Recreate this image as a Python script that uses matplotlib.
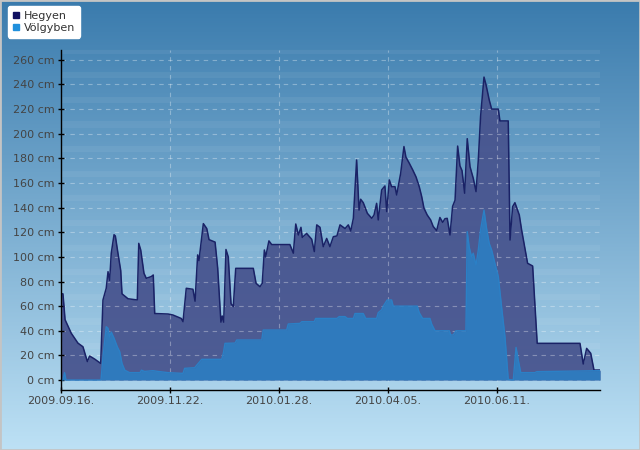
import numpy as np
import matplotlib
matplotlib.use("Agg")
import matplotlib.pyplot as plt
import matplotlib.dates as mdates
from matplotlib.lines import Line2D
from matplotlib.patches import Rectangle

# napok 2009.09.16. ota, hoérték cm-ben
kezdo = np.datetime64("2009-09-16")

hegyen_nap = [0, 1.2, 2.5, 6.3, 10.4, 13.5, 16.2, 17.6, 20.7, 24.4, 25.8, 27.8, 28.9, 29.9, 30.9,
              32.6, 33.4, 35.0, 36.7, 37.5, 41.2, 46.9, 47.8, 49.0, 51.0, 52.4, 55.5, 56.7, 57.6,
              65.8, 68.8, 73.9, 75.0, 77.0, 81.1, 82.4, 84.0, 84.8, 87.5, 89.6, 91.0, 94.7, 96.3,
              98.3, 99.1, 100.0, 101.4, 102.8, 104.5, 105.9, 107.4, 118.2, 119.9, 122.3, 123.7,
              125.0, 125.8, 127.8, 129.5, 140.7, 142.8, 144.3, 145.9, 147.5, 148.3, 151.0, 154.1,
              155.7, 157.2, 159.2, 161.2, 163.3, 165.3, 167.4, 169.6, 171.5, 174.6, 176.6, 178.1,
              179.7, 181.7, 183.2, 184.2, 185.8, 188.3, 191.0, 192.4, 194.0, 195.0, 197.1, 199.1,
              200.2, 201.8, 203.2, 205.3, 206.3, 208.8, 210.8, 212.0, 214.1, 216.2, 218.2, 220.2,
              221.7, 223.1, 225.1, 227.2, 228.8, 230.9, 232.9, 234.6, 236.0, 237.4, 239.1, 240.7,
              242.2, 243.8, 245.2, 246.5, 248.1, 249.7, 251.4, 253.4, 255.1, 256.5, 257.9, 260.0,
              261.2, 263.2, 264.7, 268.8, 269.8, 274.9, 276.0, 277.6, 279.0, 281.7, 283.1, 284.6,
              286.8, 289.9, 292.7, 319.0, 321.0, 323.1, 325.6, 327.6, 331.3]
hegyen_cm = [70, 70, 49, 38, 30, 27, 15, 19.5, 17, 13.5, 65, 74.5, 88, 81, 103,
             118, 117, 103, 89, 70, 66, 65, 111, 105.6, 86.7, 82.6, 84, 85.3, 54,
             53.6, 52.8, 50, 47.4, 74.5, 73.7, 64, 101.6, 97, 127, 123, 114, 112, 91,
             47, 52, 47, 106, 100, 62, 59.6, 90.7, 90.7, 78.5, 75.8, 78.5,
             105.6, 100, 113, 110, 110, 103, 126.7, 117.8, 124, 115.8, 119, 114.3,
             104.3, 126, 124, 108.3, 115, 108.3, 116.4, 117, 126, 123, 126, 121,
             131.3, 178.7, 138, 146.8, 144, 135.4, 131.3, 134, 143.5, 130, 154.4, 157.6,
             136.8, 162.5, 157, 157, 150.3, 168, 189.6, 181, 176, 170.6, 165, 157,
             149, 139.5, 134, 130, 124.6, 121.3, 132, 128, 131, 131.3, 117.8, 141,
             146, 190, 174, 170, 151.7, 196, 173.3, 163.8, 153, 178.7, 214, 246,
             240, 227.5, 220, 220, 210.4, 210.4, 113.7, 140.8, 144, 134, 122, 111,
             94.8, 92.6, 29.8, 29.8, 13, 25.7, 21.7, 8.1, 8.1]

volgyben_nap = [0, 1.2, 2.2, 3.1, 24.6, 25.8, 27.8, 28.9, 29.9, 30.9, 32.6, 34.6, 36.1, 37.5,
                39.2, 42.2, 48.6, 49.4, 51.4, 56.5, 59.6, 65.8, 75.0, 76.0, 82.2, 83.4, 86.5,
                98.8, 99.8, 100.8, 107.0, 108.0, 123.4, 124.3, 138.7, 139.7, 146.9, 148.0,
                155.7, 156.5, 169.6, 171.0, 174.6, 176.0, 179.7, 180.7, 185.8, 187.3, 194.0,
                195.0, 197.1, 198.1, 200.5, 203.2, 204.2, 219.0, 220.2, 222.3, 226.8, 227.8,
                229.9, 238.7, 239.5, 241.1, 242.8, 248.9, 249.7, 250.9, 252.4, 253.4, 255.1,
                256.5, 257.9, 260.0, 261.6, 263.2, 264.7, 266.7, 268.8, 270.8, 272.9, 274.9,
                278.0, 279.7, 281.1, 282.6, 291.3, 292.4, 331.3]
volgyben_cm = [0, 0, 6, 0, 0, 19, 43.3, 42, 35, 39, 34, 27, 23, 13.5,
               8, 6, 6, 8, 7, 7.6, 7, 6, 5.4, 9.5, 10, 12, 16.8,
               16.8, 22, 29.8, 30, 32.5, 32.5, 40.6, 40.6, 45.5, 46, 47.4,
               47.4, 50, 50, 51.5, 51.5, 50, 50, 54, 54, 50, 50,
               54.7, 57, 60, 65, 65, 60, 60, 54.7, 50, 50, 45.5,
               40, 40, 36.6, 36.6, 40, 40, 120.5, 108, 100, 103, 93.4,
               105.6, 122, 138, 123, 111, 105.6, 94.8, 84, 59.6, 35, 0.5,
               0, 26.5, 16, 6, 6, 6.8, 7.6]

tick_datumok = ["2009-09-16", "2009-11-22", "2010-01-28", "2010-04-05", "2010-06-11"]
y_tickek = list(range(0, 261, 20))


def datumok(napok):
    perc = (np.array(napok) * 24 * 60).astype("timedelta64[m]")
    return kezdo + perc


hd = datumok(hegyen_nap)
vd = datumok(volgyben_nap)

fig = plt.figure(figsize=(6.4, 4.5), dpi=100)

# hatter szinatmenet
bg = fig.add_axes([0, 0, 1, 1], zorder=-2)
grad = np.linspace(0, 1, 256).reshape(-1, 1)
top = np.array([0x3a, 0x7b, 0xad]) / 255
bot = np.array([0xbd, 0xe1, 0xf5]) / 255
img = top + (bot - top) * grad[:, :, None]
bg.imshow(img, aspect="auto", extent=[0, 1, 0, 1])
bg.set_axis_off()
fig.patches.append(Rectangle((0, 0), 1, 1, transform=fig.transFigure, fill=False,
                             edgecolor="#c4c4c4", lw=2))

ax = fig.add_axes([61 / 640, 1 - 390 / 450, 539 / 640, 340 / 450])
ax.set_facecolor("none")

# vilagos csikok
for y0 in range(5, 270, 20):
    ax.axhspan(y0, y0 + 5, color="white", alpha=0.055, lw=0, zorder=0)

ax.fill_between(hd, hegyen_cm, 0, color="#48558f", alpha=0.95, lw=0, zorder=2)
ax.plot(hd, hegyen_cm, color="#1a2266", lw=1.1, zorder=3)
ax.fill_between(vd, volgyben_cm, 0, color="#2f7abd", lw=0, zorder=4)
ax.plot(vd, volgyben_cm, color="#2b80c6", lw=1.0, zorder=4)

ax.set_xlim(kezdo, datumok([331.3])[0])
ax.set_ylim(-8.1, 268)

ax.set_yticks(y_tickek)
ax.set_yticklabels([f"{v} cm" for v in y_tickek])
ax.set_xticks(np.array(tick_datumok, dtype="datetime64[D]"))
ax.xaxis.set_major_formatter(mdates.DateFormatter("%Y.%m.%d."))

ax.grid(True, color="white", alpha=0.32, ls=(0, (4, 4)), lw=0.8, zorder=5)
ax.set_axisbelow(False)
for s in ["top", "right"]:
    ax.spines[s].set_visible(False)
for s in ["left", "bottom"]:
    ax.spines[s].set_color("black")
    ax.spines[s].set_linewidth(1.0)
    ax.spines[s].set_zorder(6)
ax.tick_params(direction="inout", length=5, width=1, colors="black",
               labelcolor="#444444", labelsize=8, pad=2)

handles = [Line2D([], [], marker="s", ls="", color="#101060", markersize=4.5),
           Line2D([], [], marker="s", ls="", color="#2090dc", markersize=4.5)]
leg = fig.legend(handles, ["Hegyen", "Völgyben"], loc="upper left",
                 bbox_to_anchor=(8 / 640, 1 - 6 / 450), frameon=True, fancybox=True,
                 fontsize=8, handlelength=0.6, handletextpad=0.4, borderpad=0.45,
                 labelspacing=0.15, borderaxespad=0)
leg.get_frame().set_facecolor("white")
leg.get_frame().set_edgecolor("white")
leg.get_frame().set_alpha(1)
for t in leg.get_texts():
    t.set_color("#333333")

fig.savefig("out.png", dpi=100)
